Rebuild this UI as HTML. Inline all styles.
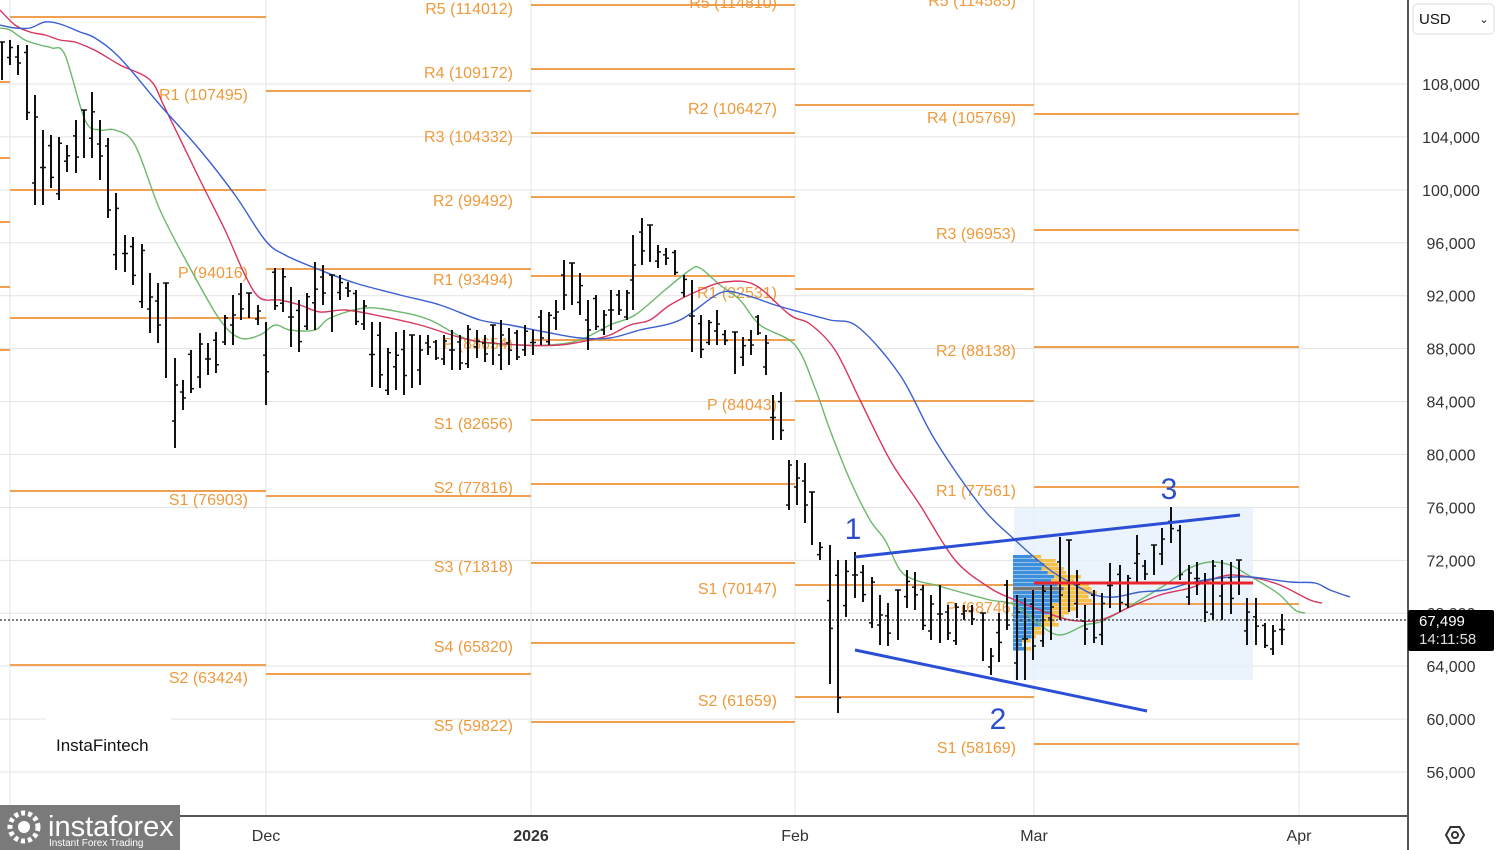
<!DOCTYPE html>
<html><head><meta charset="utf-8"><style>
html,body{margin:0;padding:0;background:#fff;}
svg{display:block;font-family:"Liberation Sans",sans-serif;}
</style></head><body>
<svg id="c" width="1500" height="850" viewBox="0 0 1500 850" xmlns="http://www.w3.org/2000/svg">
<rect width="1500" height="850" fill="#fff"/>
<g id="grid" stroke="#e3e3e3" stroke-width="1"></g>
<rect x="1014" y="508" width="239" height="172" fill="#e6f1fc" opacity="0.8"/>
<g id="piv" stroke="#f0a050" stroke-width="2"></g>
<g id="pivl" fill="#ee9a3c" font-size="16" text-anchor="end"></g>
<g id="prof"></g>
<g id="ma" fill="none" stroke-width="1.4"></g>
<g id="bars" stroke="#111" stroke-width="2"></g>
<line x1="1034" y1="583" x2="1253" y2="583" stroke="#e8262c" stroke-width="3"/>
<line x1="855" y1="557" x2="1240" y2="515" stroke="#2a4fd6" stroke-width="3"/>
<line x1="855" y1="650" x2="1147" y2="711" stroke="#2a4fd6" stroke-width="3"/>
<g fill="#2d4ec9" font-size="30" text-anchor="middle"><text x="853" y="539">1</text><text x="998" y="729">2</text><text x="1169" y="499">3</text></g>
<line x1="0" y1="620" x2="1408" y2="620" stroke="#333" stroke-width="1.2" stroke-dasharray="2,2"/>
<rect x="1408" y="0" width="92" height="850" fill="#fff"/>
<line x1="1408" y1="0" x2="1408" y2="850" stroke="#555" stroke-width="2"/>
<line x1="0" y1="816" x2="1408" y2="816" stroke="#555" stroke-width="2"/>
<g id="ticks" fill="#333" font-size="16" text-anchor="middle"></g>
<rect x="1413" y="4" width="81" height="30" rx="4" fill="#fff" stroke="#ddd"/>
<text x="1419" y="24" font-size="15" fill="#111">USD</text>
<text x="1484" y="23" font-size="11" fill="#111" text-anchor="middle">⌄</text>
<rect x="1408" y="610" width="86" height="41" rx="2" fill="#000"/>
<text x="1419" y="626" font-size="15" fill="#fff">67,499</text>
<text x="1419" y="644" font-size="15" fill="#ddd">14:11:58</text>
<g fill="#333" font-size="16" text-anchor="middle">
<text x="266" y="841">Dec</text><text x="531" y="841" font-weight="bold">2026</text><text x="795" y="841">Feb</text><text x="1034" y="841">Mar</text><text x="1299" y="841">Apr</text></g>
<g transform="translate(1455,835)" fill="none" stroke="#333" stroke-width="2"><polygon points="-9,0 -4.5,-8 4.5,-8 9,0 4.5,8 -4.5,8"/><circle r="3"/></g>
<rect x="46" y="710" width="125" height="58" fill="#fff"/>
<text x="56" y="751" font-size="17" fill="#111">InstaFintech</text>
<rect x="0" y="805" width="180" height="45" fill="#7a7a7a"/>
<circle cx="24" cy="827" r="14" fill="none" stroke="#fff" stroke-width="5" stroke-dasharray="4,3"/>
<circle cx="24" cy="827" r="6" fill="#fff"/>
<text x="48" y="836" font-size="29" fill="#fff">instaforex</text>
<text x="49" y="846" font-size="10" fill="#fff">Instant Forex Trading</text>
</svg>
<script>
const NS="http://www.w3.org/2000/svg";
function el(p,t,a,txt){const e=document.createElementNS(NS,t);for(const k in a)e.setAttribute(k,a[k]);if(txt)e.textContent=txt;document.getElementById(p).appendChild(e);return e;}
const Y=p=>84+(108000-p)*0.013231;
for(let p=56000;p<=108000;p+=4000){const y=Y(p);el("grid","line",{x1:0,y1:y,x2:1408,y2:y});el("ticks","text",{x:1451,y:y+6},p.toLocaleString("en-US"));}
[10,266,531,795,1034,1299].forEach(x=>el("grid","line",{x1:x,y1:0,x2:x,y2:816}));
const segs=[
[10,266,[[17],[190],[318],[491],[665]]],
[266,531,[[91,"R1 (107495)"],[269,"P (94016)"],[496,"S1 (76903)"],[674,"S2 (63424)"]]],
[531,795,[[5,"R5 (114012)"],[69,"R4 (109172)"],[133,"R3 (104332)"],[197,"R2 (99492)"],[276,"R1 (93494)"],[340,"P (88654)"],[420,"S1 (82656)"],[484,"S2 (77816)"],[563,"S3 (71818)"],[643,"S4 (65820)"],[722,"S5 (59822)"]]],
[795,1034,[[-1,"R5 (114810)"],[105,"R2 (106427)"],[289,"R1 (92531)"],[401,"P (84043)"],[585,"S1 (70147)"],[697,"S2 (61659)"]]],
[1034,1299,[[-3,"R5 (114585)"],[114,"R4 (105769)"],[230,"R3 (96953)"],[347,"R2 (88138)"],[487,"R1 (77561)"],[604,"P (68746)"],[744,"S1 (58169)"]]]];
segs.forEach(s=>s[2].forEach(l=>{el("piv","line",{x1:s[0],y1:l[0],x2:s[1],y2:l[0]});if(l[1])el("pivl","text",{x:s[0]-18,y:l[0]+9},l[1]);}));
[82,158,222,287,350].forEach(y=>el("piv","line",{x1:0,y1:y,x2:10,y2:y}));
for(let i=0;i<24;i++){const y=555+i*4;const c=Math.max(0,1-Math.abs(i-9)/13);const bw=6+c*42+(i%3)*3;const yw=c*30+(i%2)*6;
el("prof","rect",{x:1013,y:y,width:bw,height:3.5,fill:i==8?"#777":"#3d8fdc"});el("prof","rect",{x:1013+bw,y:y,width:yw,height:3.5,fill:"#f3c04a"});}
function smooth(pts){let d="M"+pts[0].join(",");for(let i=0;i<pts.length-1;i++){const p0=pts[i-1]||pts[i],p1=pts[i],p2=pts[i+1],p3=pts[i+2]||p2;
d+=" C"+(p1[0]+(p2[0]-p0[0])/6)+","+(p1[1]+(p2[1]-p0[1])/6)+" "+(p2[0]-(p3[0]-p1[0])/6)+","+(p2[1]-(p3[1]-p1[1])/6)+" "+p2[0]+","+p2[1];}return d;}
const green=[[0,28],[10,30],[25,40],[40,45],[52,48],[65,55],[85,120],[100,130],[115,130],[135,145],[160,210],[190,268],[220,320],[240,338],[260,335],[275,325],[290,330],[315,330],[330,318],[365,308],[400,312],[430,320],[470,340],[520,345],[550,345],[580,340],[610,325],[635,315],[665,290],[690,270],[700,268],[720,285],[740,300],[760,325],[795,345],[815,388],[830,430],[850,480],[870,520],[885,540],[900,570],[915,580],[935,585],[960,592],[990,600],[1015,605],[1040,625],[1060,635],[1085,625],[1100,622],[1120,612],[1140,600],[1165,585],[1190,568],[1210,562],[1230,565],[1248,575],[1265,585],[1280,595],[1295,610],[1305,613]];
const red=[[0,10],[15,25],[30,32],[45,35],[60,40],[75,42],[90,48],[100,53],[120,65],[150,80],[165,108],[200,180],[225,230],[245,275],[260,298],[280,300],[300,305],[320,312],[345,310],[375,315],[420,325],[470,340],[520,345],[560,345],[590,340],[610,335],[630,325],[650,320],[670,305],[700,290],[725,282],[755,285],[790,315],[810,324],[835,350],[860,400],[890,460],[920,505],[955,560],[990,588],[1015,600],[1045,612],[1070,620],[1100,620],[1130,607],[1160,595],[1190,588],[1210,580],[1230,575],[1255,578],[1280,585],[1310,600],[1322,603]];
const blue=[[0,25],[15,28],[30,28],[45,22],[60,24],[80,32],[95,38],[120,58],[160,105],[200,150],[235,195],[265,240],[285,255],[320,270],[355,283],[400,295],[440,305],[480,320],[510,325],[545,332],[580,338],[610,338],[640,330],[680,320],[720,293],[745,295],[775,305],[800,312],[830,320],[858,327],[900,375],[935,440],[980,505],[1015,540],[1050,570],[1075,585],[1095,595],[1115,597],[1140,592],[1165,590],[1190,583],[1220,578],[1250,577],[1290,582],[1315,583],[1330,590],[1350,597]];
[[green,"#6cb86c"],[red,"#d8365e"],[blue,"#3a5fd0"]].forEach(m=>el("ma","path",{d:smooth(m[0]),stroke:m[1]}));
const B=[[2,42,80],[10,40,65],[18,45,75],[27,45,120],[35,95,205],[43,130,205],[51,135,188],[59,137,200],[67,145,172],[76,120,173],[84,110,158],[92,92,158],[100,120,180],[108,138,218],[116,193,270],[125,235,272],[133,237,285],[142,244,308],[150,273,333],[158,283,343],[166,283,378],[175,358,448],[183,380,410],[191,350,393],[200,333,388],[208,343,375],[216,332,373],[225,315,345],[233,295,345],[241,283,320],[249,293,318],[258,305,325],[266,322,405],
[275,268,310],[283,268,312],[291,287,347],[299,300,352],[307,293,330],[315,262,330],[323,265,305],[332,275,332],[340,275,300],[348,282,297],[356,290,325],[364,300,330],[372,322,387],[380,322,388],[388,348,395],[396,332,390],[404,330,395],[412,335,388],[420,335,385],[428,335,355],[436,340,360],[444,335,365],[452,330,370],[460,335,370],[468,325,368],[477,330,358],[485,335,362],[493,325,365],[501,320,370],[509,328,365],[517,330,360],[525,325,356],
[533,330,355],[541,310,345],[549,312,345],[556,300,330],[564,260,310],[572,263,305],[580,273,315],[588,300,350],[596,295,330],[604,310,335],[611,290,330],[619,290,315],[627,290,320],[633,235,310],[642,218,265],[650,225,262],[658,245,268],[666,248,265],[675,250,275],[684,275,297],[692,280,352],[701,315,358],[709,320,345],[717,310,345],[725,330,345],[735,332,374],[743,337,366],[751,330,355],[758,315,335],[766,335,375],[773,395,440],[781,392,440],[789,460,510],[797,460,505],[805,463,523],[812,492,545],[820,542,560],[830,545,684],[838,560,713],[846,560,617],[855,552,598],[863,565,602],[872,577,628],[880,595,645],[888,603,646],[898,590,640],[907,570,608],[915,572,610],[923,585,630],[931,595,640],[940,585,643],[948,605,640],[956,603,645],[964,605,620],[972,605,625],[983,613,661],[991,648,675],[999,613,662],[1007,580,630],
[1017,595,680],[1025,598,680],[1033,590,660],[1043,585,647],[1051,585,640],[1060,537,620],[1069,540,612],[1077,570,618],[1085,605,645],[1094,590,643],[1102,593,645],[1110,563,608],[1120,565,612],[1128,575,608],[1137,535,582],[1145,560,580],[1154,545,575],[1162,528,565],[1171,507,543],[1180,525,580],[1189,565,605],[1197,562,595],[1205,573,622],[1213,560,620],[1222,560,620],[1231,562,614],[1239,560,595],[1247,598,645],[1256,598,645],[1265,623,648],[1273,625,655],[1282,614,645]];
B.forEach((b,i)=>{const [x,h,l]=b;const r=l-h;const o=h+r*((i*37%10)/10),c=h+r*((i*53%10)/10);
el("bars","line",{x1:x,y1:h,x2:x,y2:l});el("bars","line",{x1:x-3,y1:o,x2:x,y2:o,"stroke-width":1.5});el("bars","line",{x1:x,y1:c,x2:x+3,y2:c,"stroke-width":1.5});});
</script>
</body></html>
